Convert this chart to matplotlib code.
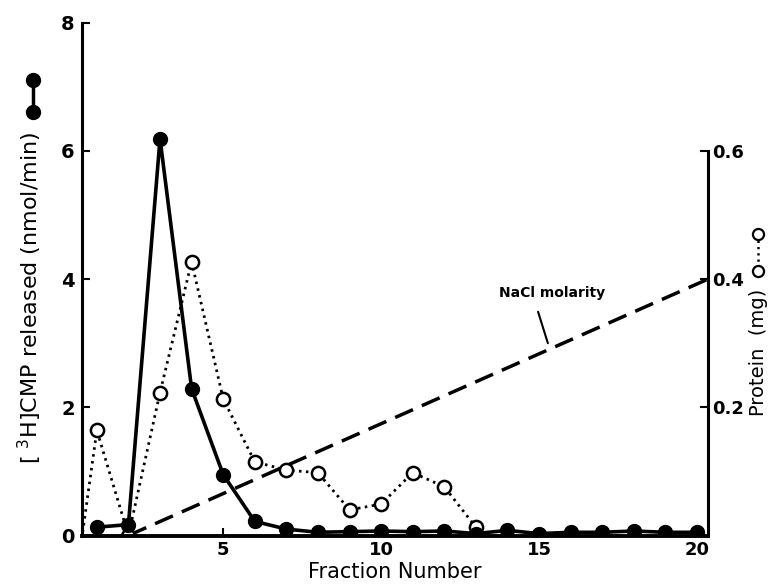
import matplotlib
matplotlib.use("Agg")
import matplotlib.pyplot as plt
from matplotlib.lines import Line2D

# ---- data ----
fractions = list(range(1, 21))
cmp_released = [0.13, 0.17, 6.19, 2.29, 0.95, 0.22, 0.10, 0.05, 0.06, 0.07,
                0.06, 0.07, 0.03, 0.08, 0.03, 0.05, 0.05, 0.07, 0.05, 0.05]
# first entry: where the dotted protein trace leaves the left axis (no marker)
protein_fractions = [0.55, 1, 2, 3, 4, 5, 6, 7, 8, 9, 10, 11, 12, 13]
protein_mg = [0.005, 0.164, 0.0, 0.223, 0.427, 0.213, 0.115, 0.102, 0.098,
              0.040, 0.049, 0.098, 0.076, 0.013]
nacl_x = [2, 20.35]
nacl_y = [0.0, 0.4]
x_ticks = [5, 10, 15, 20]
left_ticks = [0, 2, 4, 6, 8]
right_ticks = [0.2, 0.4, 0.6]

plt.rcParams['font.family'] = ['DejaVu Sans']

fig = plt.figure(figsize=(7.76, 5.86), dpi=100)
ax = fig.add_axes([81.7/776, 1-535.5/586, (708-81.7)/776, (535.5-22.7)/586])
ax2 = ax.twinx()

ax.set_xlim(0.52, 20.35)
ax.set_ylim(0, 8)
ax2.set_ylim(0, 0.8)

# NaCl gradient
ax2.plot(nacl_x, nacl_y, color='black', lw=2.5, dashes=(5.6, 2.8), zorder=1)
# protein (open circles, dotted)
ax2.plot(protein_fractions, protein_mg, color='black', lw=2.0,
         linestyle=(0, (0.9, 1.6)), marker='o', markersize=9.5,
         markevery=list(range(1, len(protein_fractions))),
         markerfacecolor='white', markeredgecolor='black', markeredgewidth=1.8,
         zorder=3)
# CMP released (filled, solid)
ax.plot(fractions, cmp_released, color='black', lw=2.6, marker='o',
        markersize=10, markerfacecolor='black', markeredgecolor='black',
        zorder=4)
ax.set_zorder(ax2.get_zorder() + 1)
ax.patch.set_visible(False)

# spines
for a in (ax, ax2):
    a.spines['top'].set_visible(False)
ax.spines['right'].set_visible(False)
ax2.spines['left'].set_visible(False)
ax2.spines['bottom'].set_visible(False)
ax.spines['left'].set_linewidth(2.2)
ax.spines['bottom'].set_linewidth(2.8)
ax2.spines['right'].set_linewidth(2.2)
ax2.spines['right'].set_bounds(0, 0.6)

ax.set_xticks(x_ticks)
ax.set_xticklabels([str(v) for v in x_ticks], fontsize=13, fontweight='bold')
ax.set_yticks(left_ticks)
ax.set_yticklabels([str(v) for v in left_ticks], fontsize=14, fontweight='bold')
ax2.set_yticks(right_ticks)
ax2.set_yticklabels(['0.2', '0.4', '0.6'], fontsize=13, fontweight='bold')

ax.tick_params(axis='both', direction='in', length=6, width=1.5, pad=5)
ax.tick_params(axis='x', pad=4)
ax2.tick_params(axis='y', direction='in', length=6, width=1.5, pad=3)

ax.set_xlabel('Fraction Number', fontsize=15, labelpad=2)

# left y label with symbol
fig.text(30/776, 1-298/586, r'[ $^{3}$H]CMP released (nmol/min)',
         rotation=90, ha='center', va='center', fontsize=16)
sym_l = Line2D([33/776, 33/776], [1-80/586, 1-112/586], transform=fig.transFigure,
               color='black', lw=2.5, marker='o', markersize=10,
               markerfacecolor='black')
fig.add_artist(sym_l)

# right y label with symbol
fig.text(758/776, 1-352/586, 'Protein  (mg)', rotation=90, ha='center',
         va='center', fontsize=14)
sym_r = Line2D([758/776, 758/776], [1-234/586, 1-271/586], transform=fig.transFigure,
               color='black', lw=1.8, linestyle=(0, (0.9, 1.6)), marker='o',
               markersize=8, markerfacecolor='white', markeredgewidth=1.6)
fig.add_artist(sym_r)

# NaCl annotation
ax.text(15.41, 3.68, 'NaCl molarity', fontsize=10, fontweight='bold',
        ha='center', va='bottom')
ax.annotate('', xy=(15.28, 3.0), xytext=(14.97, 3.49),
            arrowprops=dict(arrowstyle='-', lw=1.5, color='black',
                            shrinkA=0, shrinkB=0))

fig.savefig('out.png', dpi=100)
